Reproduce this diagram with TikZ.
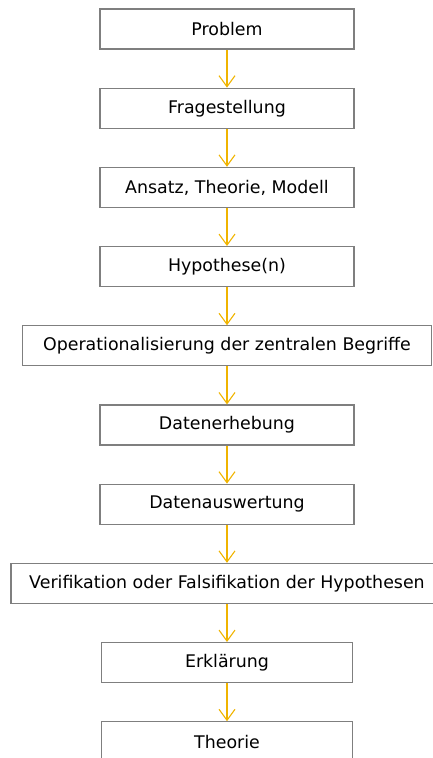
\documentclass[tikz,border=0pt]{standalone}
\usepackage{fontspec}
\setmainfont{DejaVu Sans}
\usepackage{tikz}
\usetikzlibrary{positioning, arrows.meta}
\definecolor{arrowgold}{HTML}{F0B400}
\definecolor{boxgray}{HTML}{7F7F7F}

\begin{document}
\begin{tikzpicture}[x=1pt, y=1pt]
		\tikzstyle{box}=[rectangle, draw=boxgray, line width=1.2pt, minimum width=254pt, minimum height=40pt, inner xsep=2pt, font=\fontsize{17.4}{20}\selectfont]
		\tikzstyle{wide}=[minimum width=409pt]
		\tikzstyle{every node}=[box]
		\tikzstyle{flow}=[-{Straight Barb[length=11pt, width=16pt]}, draw=arrowgold, line width=1.1pt]

		\useasboundingbox (0,0) rectangle (432,-758);

		\node (problem) at (227,-29) {Problem};
		\node[below=38pt of problem] (frage) {Fragestellung};
		\node[below=38pt of frage] (ansatz) {Ansatz, Theorie, Modell};
		\node[below=38pt of ansatz] (hypo) {Hypothese(n)};
		\node[wide, below=38pt of hypo] (oper) {Operationalisierung der zentralen Begriffe};
		\node[below=38pt of oper] (erhebung) {Datenerhebung};
		\node[below=38pt of erhebung] (auswertung) {Datenauswertung};
		\node[minimum width=432pt, below=38pt of auswertung] (verif) {Verifikation oder Falsifikation der Hypothesen};
		\node[minimum width=251pt, below=38pt of verif] (erkl) {Erklärung};
		\node[minimum width=251pt, below=38pt of erkl] (theorie) {Theorie};

		\draw[flow] (problem) -- (frage);
		\draw[flow] (frage) -- (ansatz);
		\draw[flow] (ansatz) -- (hypo);
		\draw[flow] (hypo) -- (oper);
		\draw[flow] (oper) -- (erhebung);
		\draw[flow] (erhebung) -- (auswertung);
		\draw[flow] (auswertung) -- (verif);
		\draw[flow] (verif) -- (erkl);
		\draw[flow] (erkl) -- (theorie);

	\end{tikzpicture}
\end{document}
